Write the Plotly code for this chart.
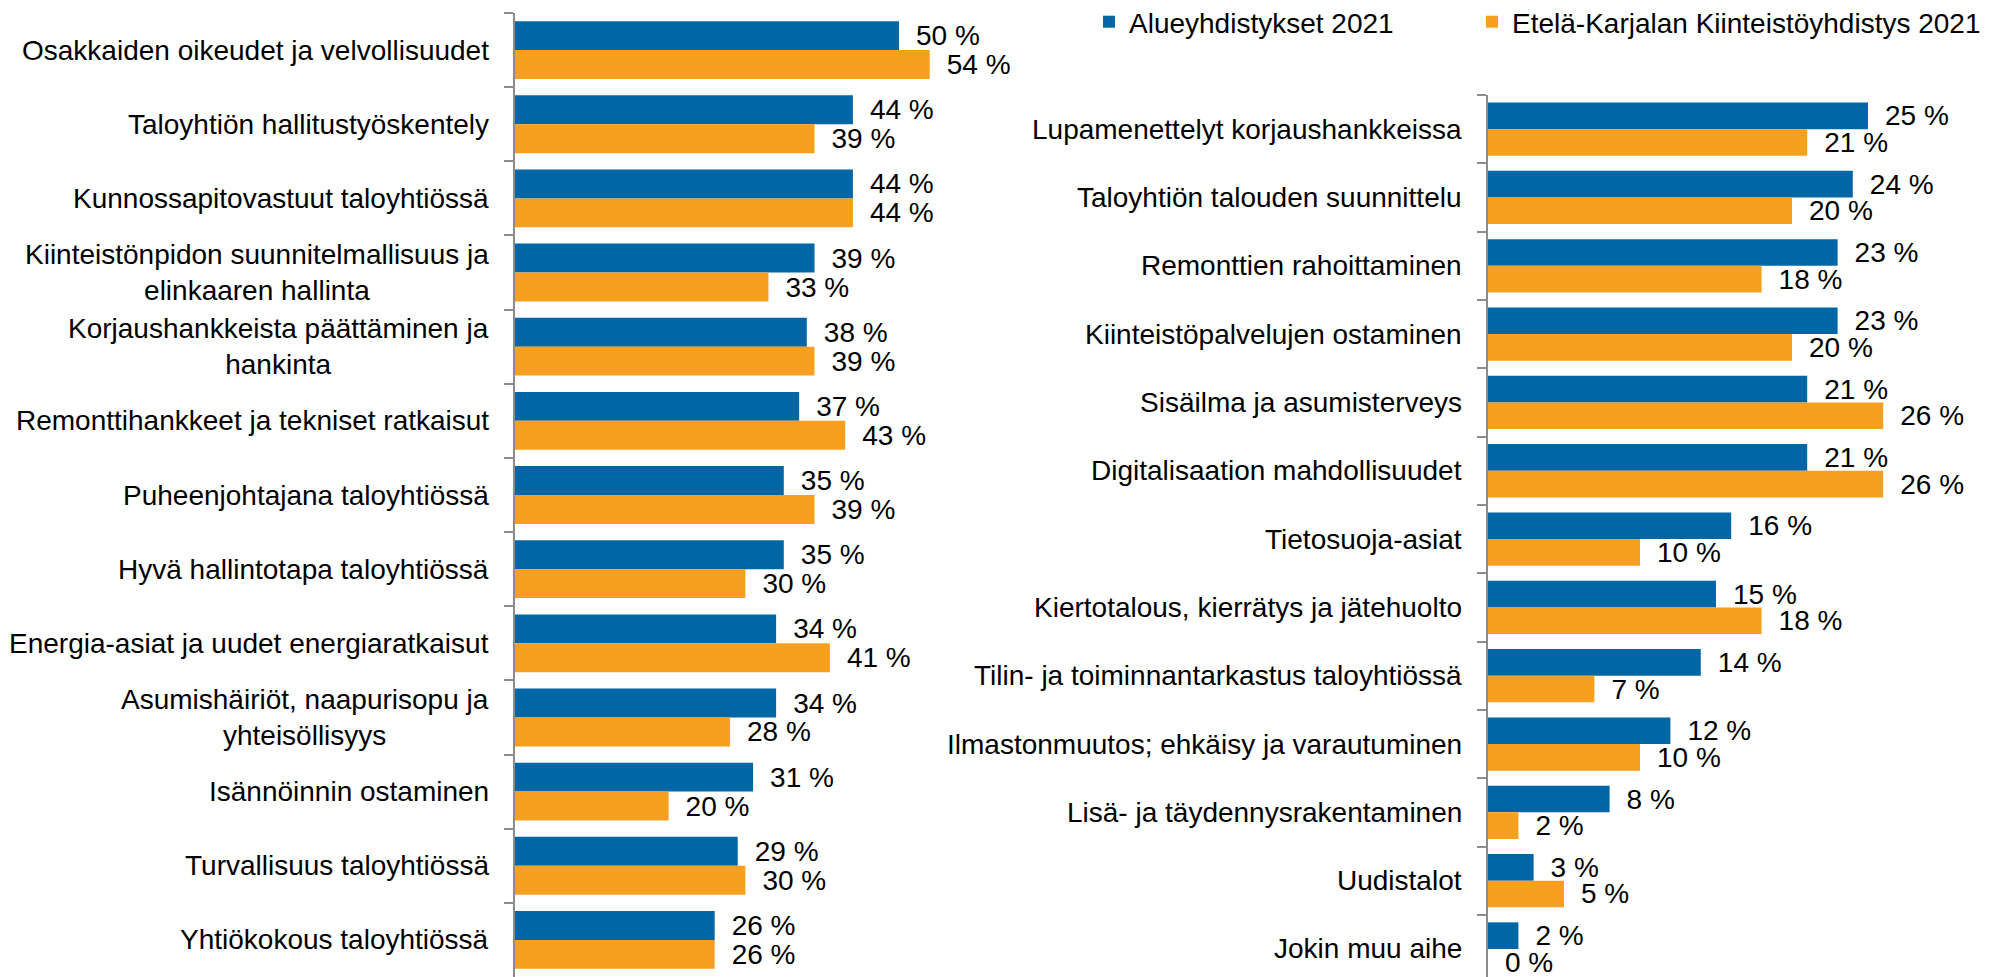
import plotly.graph_objects as go

# ---- data ----
left_categories = [
    "Osakkaiden oikeudet ja velvollisuudet",
    "Taloyhtiön hallitustyöskentely",
    "Kunnossapitovastuut taloyhtiössä",
    "Kiinteistönpidon suunnitelmallisuus ja<br>elinkaaren hallinta",
    "Korjaushankkeista päättäminen ja<br>hankinta",
    "Remonttihankkeet ja tekniset ratkaisut",
    "Puheenjohtajana taloyhtiössä",
    "Hyvä hallintotapa taloyhtiössä",
    "Energia-asiat ja uudet energiaratkaisut",
    "Asumishäiriöt, naapurisopu ja<br>yhteisöllisyys",
    "Isännöinnin ostaminen",
    "Turvallisuus taloyhtiössä",
    "Yhtiökokous taloyhtiössä",
]
left_alue = [50, 44, 44, 39, 38, 37, 35, 35, 34, 34, 31, 29, 26]
left_ekk = [54, 39, 44, 33, 39, 43, 39, 30, 41, 28, 20, 30, 26]

right_categories = [
    "Lupamenettelyt korjaushankkeissa",
    "Taloyhtiön talouden suunnittelu",
    "Remonttien rahoittaminen",
    "Kiinteistöpalvelujen ostaminen",
    "Sisäilma ja asumisterveys",
    "Digitalisaation mahdollisuudet",
    "Tietosuoja-asiat",
    "Kiertotalous, kierrätys ja jätehuolto",
    "Tilin- ja toiminnantarkastus taloyhtiössä",
    "Ilmastonmuutos; ehkäisy ja varautuminen",
    "Lisä- ja täydennysrakentaminen",
    "Uudistalot",
    "Jokin muu aihe",
]
right_alue = [25, 24, 23, 23, 21, 21, 16, 15, 14, 12, 8, 3, 2]
right_ekk = [21, 20, 18, 20, 26, 26, 10, 18, 7, 10, 2, 5, 0]

series_names = ["Alueyhdistykset 2021", "Etelä-Karjalan Kiinteistöyhdistys 2021"]
colors = ["#0066A6", "#F7A020"]

# page body has an 8px default margin; figure is sized to fill the rest
OFF = 8
W, H = 2011 - OFF, 977 - OFF
FONT = "Liberation Sans, Arial, sans-serif"
FS = 28
AXIS_COLOR = "#8C8C8C"


def fx(x):
    return (x - OFF) / W


def fy(y):
    return 1 - (y - OFF) / H


fig = go.Figure()


def add_bars(cats, vals, name, color, xa, ya, show, legend):
    fig.add_trace(go.Bar(
        y=cats, x=vals, name=name, orientation="h",
        marker=dict(color=color, line=dict(width=0)),
        texttemplate="\u2002%{x} %", textposition="outside",
        constraintext="none", cliponaxis=False,
        textfont=dict(family=FONT, size=FS, color="#000000"),
        xaxis=xa, yaxis=ya, showlegend=show, legend=legend, hoverinfo="skip",
    ))


add_bars(left_categories, left_alue, series_names[0], colors[0], "x", "y", True, "legend")
add_bars(left_categories, left_ekk, series_names[1], colors[1], "x", "y", True, "legend2")
add_bars(right_categories, right_alue, series_names[0], colors[0], "x2", "y2", False, "legend")
add_bars(right_categories, right_ekk, series_names[1], colors[1], "x2", "y2", False, "legend2")

lx0 = fx(515)
lx1 = fx(515 + 60 * 7.68)
rx0 = fx(1488)
rx1 = fx(1488 + 30 * 15.2)

yaxis_common = dict(
    type="category", showline=True, linecolor=AXIS_COLOR, linewidth=2,
    ticks="outside", tickson="boundaries", ticklen=9, tickcolor=AXIS_COLOR,
    tickwidth=2, showticklabels=False, showgrid=False, zeroline=False,
    fixedrange=True,
)

legend_common = dict(
    orientation="h", yanchor="top", xanchor="left", y=fy(-3),
    font=dict(family=FONT, size=28, color="#000000"),
    bgcolor="rgba(0,0,0,0)",
)

fig.update_layout(
    width=W, height=H,
    margin=dict(l=0, r=0, t=0, b=0, autoexpand=False),
    paper_bgcolor="white", plot_bgcolor="white",
    barmode="group", bargap=0.22, bargroupgap=0,
    font=dict(family=FONT, size=FS, color="#000000"),
    xaxis=dict(domain=[lx0, lx1], range=[0, 60], visible=False, fixedrange=True),
    yaxis=dict(domain=[0, fy(13)], range=[12.5, -0.5], anchor="x", **yaxis_common),
    xaxis2=dict(domain=[rx0, rx1], range=[0, 30], visible=False, fixedrange=True),
    yaxis2=dict(domain=[0, fy(95)], range=[12.41, -0.5], anchor="x2", **yaxis_common),
    legend=dict(x=fx(1089), **legend_common),
    legend2=dict(x=fx(1472), **legend_common),
)

annotations = []
for cats, ya, x0 in ((left_categories, "y", lx0), (right_categories, "y2", rx0)):
    for c in cats:
        annotations.append(dict(
            text=c, xref="paper", yref=ya, x=x0, y=c, xanchor="right",
            yanchor="middle", align="center", xshift=-24, showarrow=False,
            font=dict(family=FONT, size=FS, color="#000000"),
        ))
fig.update_layout(annotations=annotations)

fig.write_html("out.html")
